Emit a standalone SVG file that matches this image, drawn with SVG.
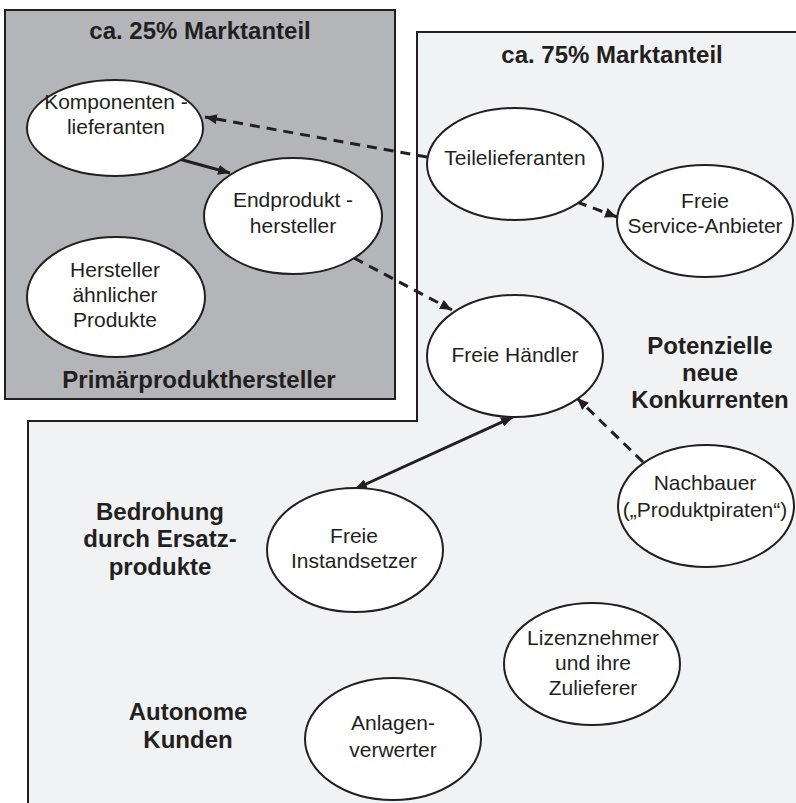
<svg xmlns="http://www.w3.org/2000/svg" width="796" height="803" viewBox="0 0 796 803">
<style>
text{font-family:"Liberation Sans",Arial,sans-serif;fill:#231f20;text-anchor:middle}
.n{font-size:21px}
.b{font-size:24px;font-weight:bold}
.node ellipse{fill:#fff;stroke:#231f20;stroke-width:2}
.c{fill:none;stroke:#231f20;stroke-width:3}
.d{stroke-dasharray:10 7}
</style>
<defs>
<marker id="ah" viewBox="0 0 12 10" refX="12" refY="5" markerWidth="12" markerHeight="10" markerUnits="userSpaceOnUse" orient="auto-start-reverse">
<path d="M0,0 L12,5 L0,10 z" fill="#231f20"/>
</marker>
</defs>
<rect width="796" height="803" fill="#fff"/>
<g id="region-75">
<path d="M796,32 L417,32 L417,421 L28,421 L28,803 L796,803 Z" fill="#f1f2f4"/>
<path d="M796,32 L417,32 L417,421 L28,421 L28,803" fill="none" stroke="#231f20" stroke-width="2"/>
<text class="b" x="612" y="63">ca. 75% Marktanteil</text>
<text class="b" x="710" y="354">Potenzielle</text>
<text class="b" x="710" y="381">neue</text>
<text class="b" x="710" y="408">Konkurrenten</text>
<text class="b" x="160" y="520">Bedrohung</text>
<text class="b" x="160" y="547">durch Ersatz-</text>
<text class="b" x="160" y="575">produkte</text>
<text class="b" x="188" y="720">Autonome</text>
<text class="b" x="188" y="748">Kunden</text>
</g>
<g id="region-25">
<rect x="5" y="10" width="390" height="389" fill="#b4b5b9" stroke="#231f20" stroke-width="2"/>
<text class="b" x="200" y="39">ca. 25% Marktanteil</text>
<text class="b" x="199" y="388">Primärprodukthersteller</text>
</g>
<g id="connectors">
<line class="c d" x1="427" y1="157" x2="205" y2="117" marker-end="url(#ah)"/>
<line class="c" x1="179" y1="159" x2="230" y2="173" marker-end="url(#ah)"/>
<line class="c d" x1="354" y1="258" x2="452" y2="310" marker-end="url(#ah)"/>
<line class="c d" x1="577" y1="202" x2="617" y2="217" marker-end="url(#ah)"/>
<line class="c" x1="513" y1="417" x2="355" y2="489" marker-start="url(#ah)" marker-end="url(#ah)"/>
<line class="c d" x1="643" y1="462" x2="577" y2="398" marker-end="url(#ah)"/>
</g>
<g id="komponentenlieferanten" class="node">
<ellipse cx="115" cy="128" rx="88" ry="48"/>
<text class="n" x="116" y="109">Komponenten -</text>
<text class="n" x="116" y="134">lieferanten</text>
</g>
<g id="endprodukthersteller" class="node">
<ellipse cx="293" cy="216" rx="89" ry="58"/>
<text class="n" x="293" y="207">Endprodukt -</text>
<text class="n" x="293" y="233">hersteller</text>
</g>
<g id="hersteller-aehnlicher-produkte" class="node">
<ellipse cx="116" cy="297" rx="89" ry="60"/>
<text class="n" x="115" y="277">Hersteller</text>
<text class="n" x="115" y="302">ähnlicher</text>
<text class="n" x="115" y="327">Produkte</text>
</g>
<g id="teilelieferanten" class="node">
<ellipse cx="515" cy="164" rx="88" ry="56"/>
<text class="n" x="515" y="165">Teilelieferanten</text>
</g>
<g id="freie-service-anbieter" class="node">
<ellipse cx="705" cy="221" rx="88" ry="56"/>
<text class="n" x="705" y="208">Freie</text>
<text class="n" x="705" y="233">Service-Anbieter</text>
</g>
<g id="freie-haendler" class="node">
<ellipse cx="515" cy="356" rx="88" ry="61"/>
<text class="n" x="515" y="362">Freie Händler</text>
</g>
<g id="nachbauer" class="node">
<ellipse cx="706" cy="506" rx="88" ry="61"/>
<text class="n" x="705" y="490">Nachbauer</text>
<text class="n" x="705" y="517">(„Produktpiraten“)</text>
</g>
<g id="freie-instandsetzer" class="node">
<ellipse cx="355" cy="550" rx="88" ry="62"/>
<text class="n" x="354" y="543">Freie</text>
<text class="n" x="354" y="568">Instandsetzer</text>
</g>
<g id="lizenznehmer" class="node">
<ellipse cx="592" cy="664" rx="88" ry="61"/>
<text class="n" x="593" y="645">Lizenznehmer</text>
<text class="n" x="593" y="670">und ihre</text>
<text class="n" x="593" y="695">Zulieferer</text>
</g>
<g id="anlagenverwerter" class="node">
<ellipse cx="393" cy="739" rx="88" ry="61"/>
<text class="n" x="393" y="730">Anlagen-</text>
<text class="n" x="393" y="757">verwerter</text>
</g>
</svg>
